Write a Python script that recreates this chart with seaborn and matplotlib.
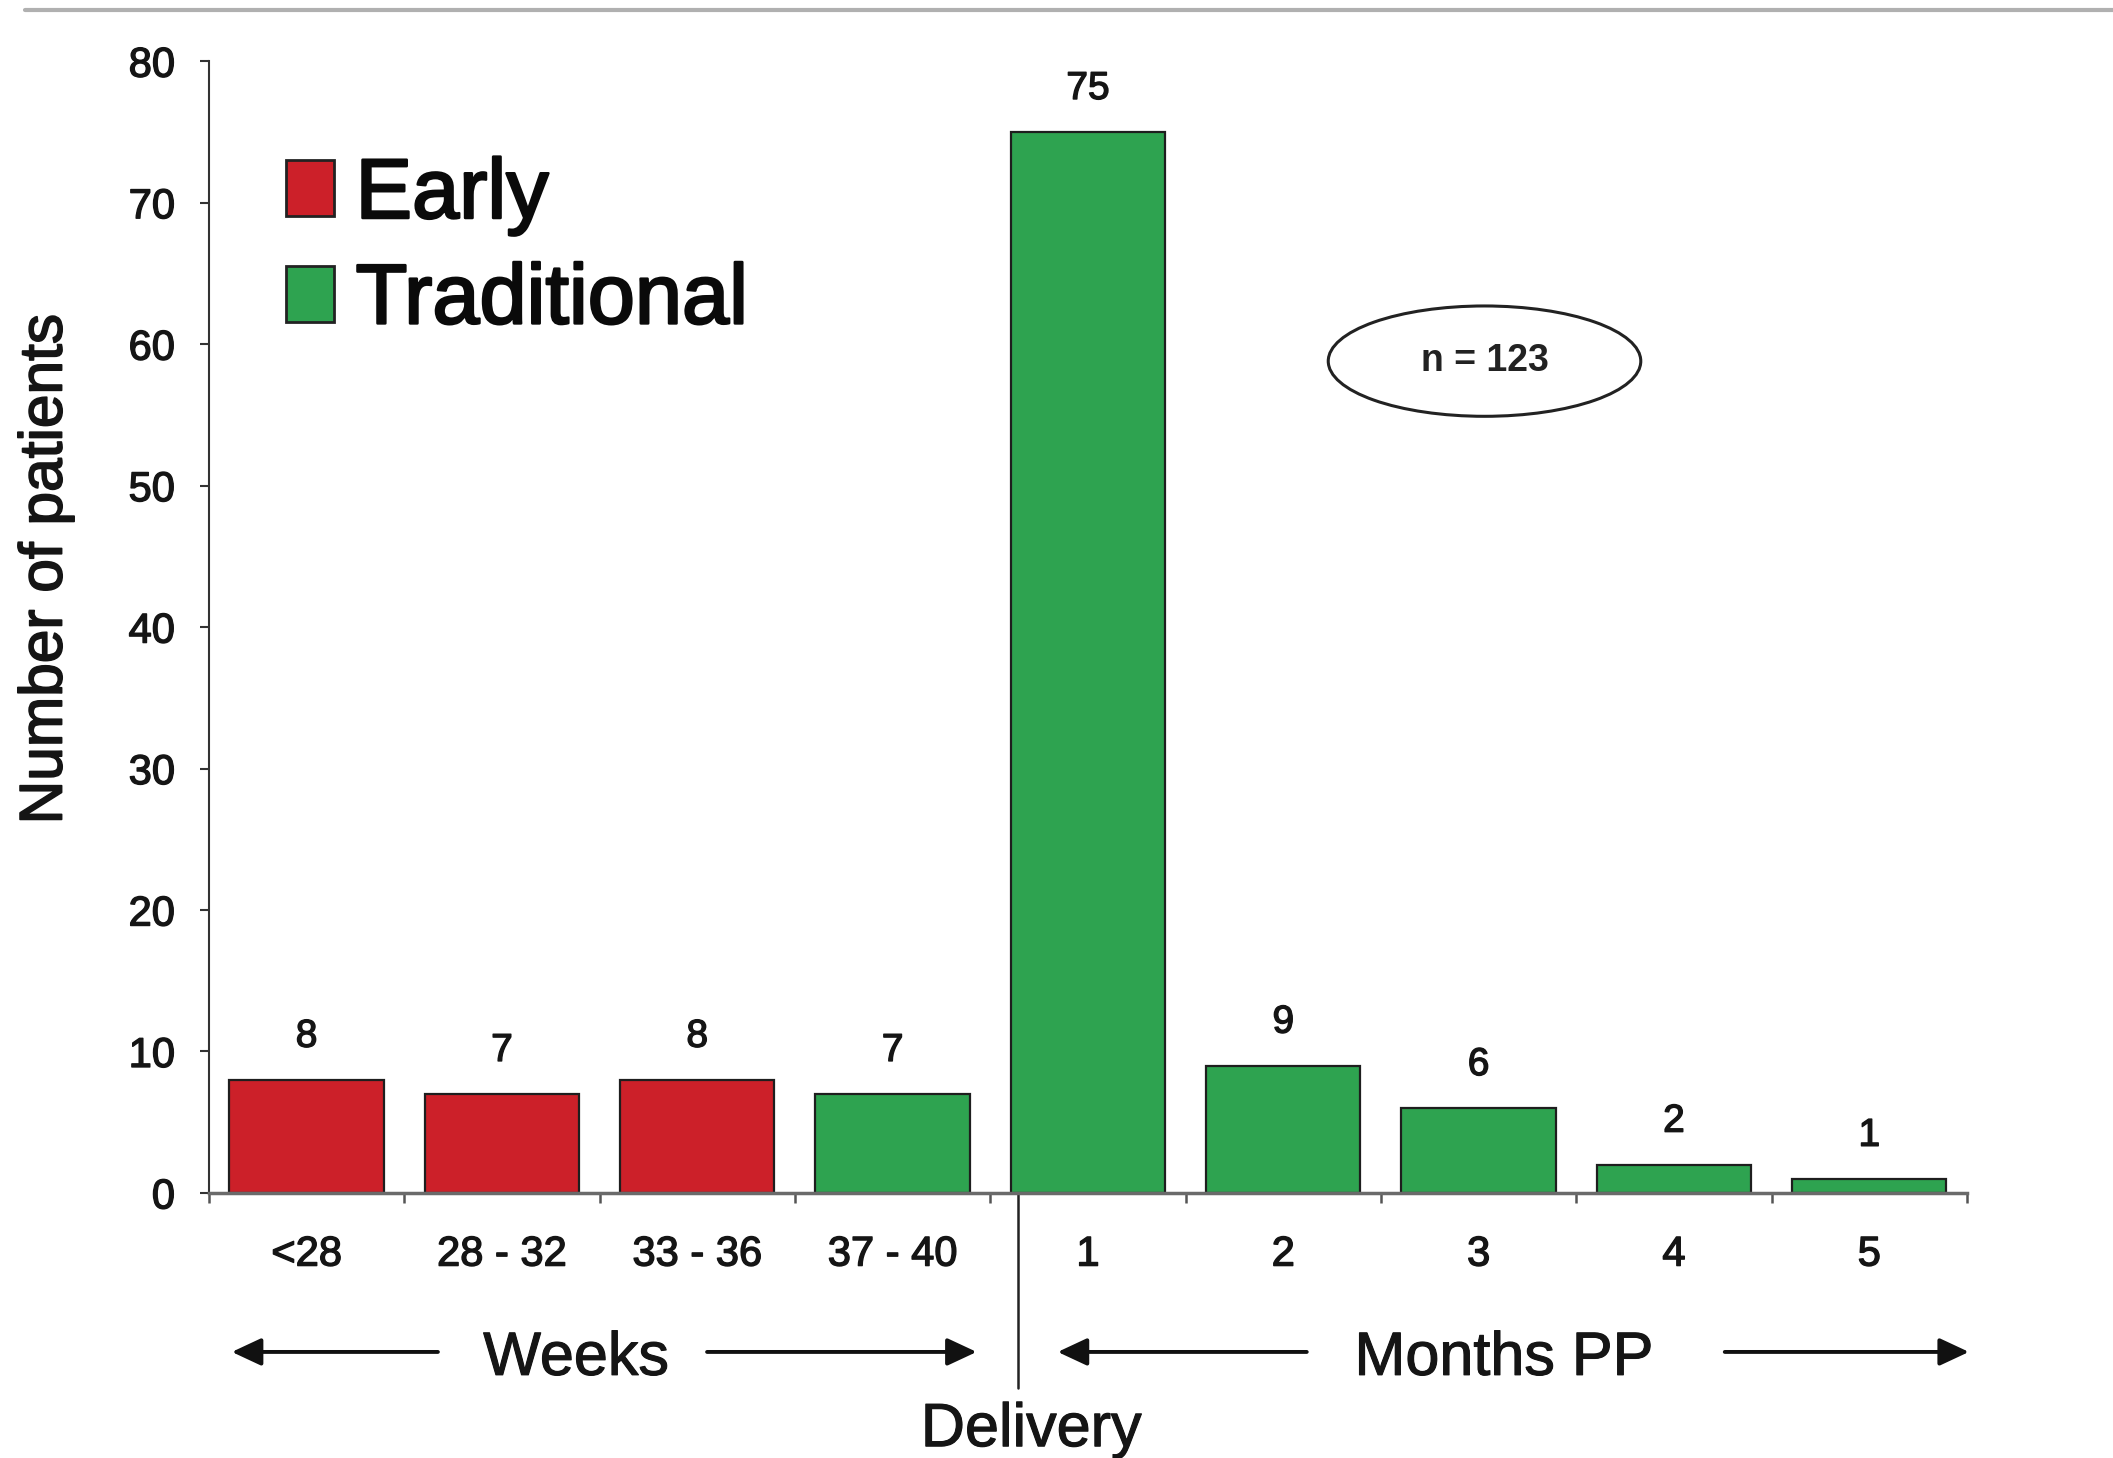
import matplotlib
matplotlib.use("Agg")
import matplotlib.pyplot as plt
import matplotlib.patheffects as pe
from matplotlib.patches import Ellipse, Patch
from matplotlib.lines import Line2D
import seaborn as sns
import pandas as pd

# Time of treatment start: weeks of gestation, then months post partum
periods = ["<28", "28 - 32", "33 - 36", "37 - 40", "1", "2", "3", "4", "5"]
patients = [8, 7, 8, 7, 75, 9, 6, 2, 1]
groups = ["Early", "Early", "Early", "Traditional", "Traditional",
          "Traditional", "Traditional", "Traditional", "Traditional"]
group_names = ["Early", "Traditional"]
group_colors = ["#CC2029", "#2EA350"]
y_ticks = [0, 10, 20, 30, 40, 50, 60, 70, 80]
total_label = "n = 123"
span_labels = ["Weeks", "Months PP"]
divider_label = "Delivery"
y_label = "Number of patients"

sns.set_theme(style="white")
plt.rcParams["font.family"] = ["Liberation Sans", "DejaVu Sans"]

INK = "#151515"


def heavy(width=1.0):
    return [pe.withStroke(linewidth=width, foreground=INK)]


df = pd.DataFrame({"period": periods, "patients": patients, "group": groups})

fig = plt.figure(figsize=(21.13, 14.58), dpi=100)
ax = fig.add_axes([0.0989, 0.1818, 0.832, 0.7762])

sns.barplot(data=df, x="period", y="patients", hue="group", order=periods,
            hue_order=group_names, palette=dict(zip(group_names, group_colors)),
            dodge=False, width=0.79, saturation=1, edgecolor="#1e1e1e",
            linewidth=1.6, legend=False, ax=ax)

ax.set_xlim(-0.5, 8.5)
ax.set_ylim(0, 80)
ax.set_yticks(y_ticks)
ax.set_xlabel("")
ax.set_ylabel(y_label, fontsize=43.5, color=INK, path_effects=heavy(1.2))
ax.yaxis.set_label_coords(-0.077, 0.551)

ax.tick_params(axis="y", left=True, length=6.5, width=1.5, color="#333333",
               pad=18, labelsize=30, labelcolor=INK)
ax.tick_params(axis="x", which="major", bottom=False, length=0, pad=30,
               labelsize=30, labelcolor=INK)
ax.set_xticks([i - 0.5 for i in range(len(periods) + 1)], minor=True)
ax.tick_params(axis="x", which="minor", bottom=True, length=7, width=1.8,
               color="#555555")
for lab in ax.get_xticklabels() + ax.get_yticklabels():
    lab.set_path_effects(heavy(1.0))

for side in ("top", "right"):
    ax.spines[side].set_visible(False)
ax.spines["left"].set_color("#333333")
ax.spines["left"].set_linewidth(1.5)
ax.spines["bottom"].set_color("#6a6a6a")
ax.spines["bottom"].set_linewidth(2.5)

# value above each bar
for i, v in enumerate(patients):
    ax.text(i, v + 2.33, str(v), ha="center", va="baseline", fontsize=28,
            color=INK, path_effects=heavy(1.0))

# sample size badge
ax.add_patch(Ellipse((6.03, 58.8), 1.6, 7.8, fill=False, edgecolor="#222222",
                     linewidth=2.2))
ax.text(6.03, 58.8, total_label, ha="center", va="center", fontsize=27,
        fontweight="bold", color="#222222")

# legend
handles = [Patch(facecolor=c, edgecolor="#222222", linewidth=2) for c in group_colors]
leg = ax.legend(handles, group_names, loc="upper left",
                bbox_to_anchor=(0.1354, 0.893), bbox_transform=fig.transFigure,
                frameon=False, fontsize=61, handlelength=0.56, handleheight=0.64,
                handletextpad=0.26, labelspacing=0.3, borderpad=0,
                borderaxespad=0)
for t in leg.get_texts():
    t.set_color("#0a0a0a")
    t.set_path_effects([pe.withStroke(linewidth=1.8, foreground="#0a0a0a")])

# time spans under the axis
arrow_kw = dict(arrowstyle="-|>,head_length=0.6,head_width=0.28", lw=2.8,
                color="#111111", mutation_scale=30, shrinkA=0, shrinkB=0)
y_span = -11.24
for x_from, x_to in [(0.672, -0.383), (2.05, 3.43), (5.12, 3.845), (7.26, 8.51)]:
    ax.annotate("", xy=(x_to, y_span), xytext=(x_from, y_span),
                arrowprops=arrow_kw, annotation_clip=False)
ax.text(1.38, -12.86, span_labels[0], ha="center", va="baseline", fontsize=44,
        color=INK, clip_on=False, path_effects=heavy(0.8))
ax.text(6.13, -12.86, span_labels[1], ha="center", va="baseline", fontsize=44,
        color=INK, clip_on=False, path_effects=heavy(0.8))

# delivery divider
ax.plot([3.64, 3.64], [0, -13.8], color="#222222", lw=1.8, clip_on=False)
ax.text(3.71, -17.9, divider_label, ha="center", va="baseline", fontsize=44,
        color=INK, clip_on=False, path_effects=heavy(0.8))

# rule across the top
fig.add_artist(Line2D([0.012, 1.0], [0.9931, 0.9931], transform=fig.transFigure,
                      color="#b0b0b0", lw=3))

fig.savefig("out.png", dpi=100, facecolor="white")
